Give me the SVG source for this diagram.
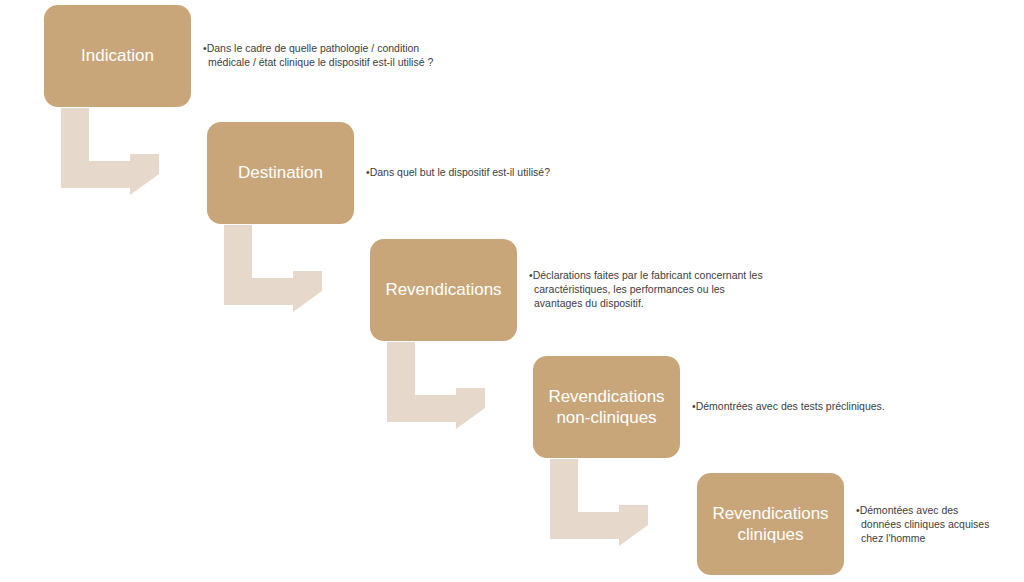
<svg xmlns="http://www.w3.org/2000/svg" width="1024" height="582" viewBox="0 0 1024 582">
<style>
.box{fill:#c9a679}
.arr{fill:#e6d9cc}
.t{font-family:"Liberation Sans",Arial,sans-serif;font-size:17px;fill:#fff;text-anchor:middle}
.d{font-family:"Liberation Sans",Arial,sans-serif;font-size:10.5px;fill:#404040}
</style>
<rect width="1024" height="582" fill="#fff"/>
<defs>
<path id="ar" d="M17,0 H45 V53 H86 V46 H115 V66 L86,87 V80 H17 Z"/>
</defs>
<g id="connectors">
<use href="#ar" class="arr" x="44" y="108"/>
<use href="#ar" class="arr" x="207" y="225"/>
<use href="#ar" class="arr" x="370" y="342"/>
<use href="#ar" class="arr" x="533" y="459"/>
</g>
<g id="n1"><rect class="box" x="44" y="5" width="147" height="102" rx="14"/><text class="t" x="117.5" y="61">Indication</text>
<text class="d" x="203" y="52">•Dans le cadre de quelle pathologie / condition</text><text class="d" x="208" y="66">médicale / état clinique le dispositif est-il utilisé ?</text></g>
<g id="n2"><rect class="box" x="207" y="122" width="147" height="102" rx="14"/><text class="t" x="280.5" y="178">Destination</text>
<text class="d" x="366" y="176">•Dans quel but le dispositif est-il utilisé?</text></g>
<g id="n3"><rect class="box" x="370" y="239" width="147" height="102" rx="14"/><text class="t" x="443.5" y="295">Revendications</text>
<text class="d" x="529" y="279">•Déclarations faites par le fabricant concernant les</text><text class="d" x="534" y="293">caractéristiques, les performances ou les</text><text class="d" x="534" y="307">avantages du dispositif.</text></g>
<g id="n4"><rect class="box" x="533" y="356" width="147" height="102" rx="14"/><text class="t" x="606.5" y="402">Revendications</text><text class="t" x="606.5" y="423">non-cliniques</text>
<text class="d" x="692" y="410">•Démontrées avec des tests précliniques.</text></g>
<g id="n5"><rect class="box" x="697" y="473" width="147" height="102" rx="14"/><text class="t" x="770.5" y="519">Revendications</text><text class="t" x="770.5" y="540">cliniques</text>
<text class="d" x="856" y="514">•Démontées avec des</text><text class="d" x="861" y="528">données cliniques acquises</text><text class="d" x="861" y="542">chez l'homme</text></g>
</svg>
